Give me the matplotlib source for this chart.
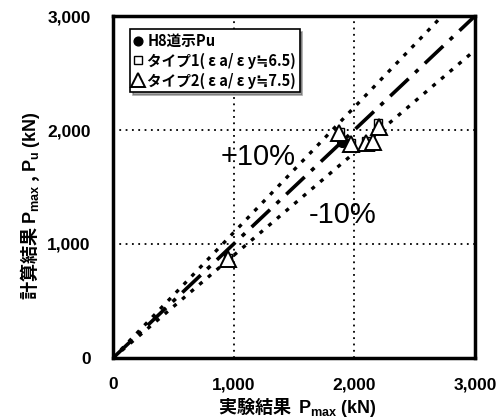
import numpy as np
import matplotlib
matplotlib.use('Agg')
import matplotlib.pyplot as plt

plt.rcParams['font.family'] = ['Liberation Sans', 'Noto Sans CJK JP']
plt.rcParams['mathtext.fontset'] = 'custom'
plt.rcParams['mathtext.rm'] = 'Liberation Sans'
plt.rcParams['mathtext.it'] = 'Liberation Sans'
plt.rcParams['mathtext.bf'] = 'Liberation Sans:bold'

# measured (x) vs calculated (y), kN
h8_x = [1900]
h8_y = [1895]
type1_x = [955, 1880, 1975, 2095, 2195]
type1_y = [880, 1980, 1890, 1900, 2060]
type2_x = [955, 1870, 1970, 2100, 2155, 2205]
type2_y = [865, 1975, 1880, 1890, 1895, 2030]

ticks = [0, 1000, 2000, 3000]
tick_labels = ['0', '1,000', '2,000', '3,000']
lim = 3000

fig = plt.figure(figsize=(5.0, 4.19), dpi=100)
ax = fig.add_axes([0.226, 0.1456, 0.724, 0.8162])

xx = np.array([0, lim])
ax.plot(xx, xx, color='black', lw=2.6, linestyle=(0, (7, 2.5, 1.2, 2.5)), zorder=2)
ax.plot(xx, xx * 1.1, color='black', lw=2.4, linestyle=(0, (1.2, 2.2)), zorder=2)
ax.plot(xx, xx * 0.9, color='black', lw=2.4, linestyle=(0, (1.2, 2.2)), zorder=2)

ax.plot(h8_x, h8_y, 'o', color='black', ms=7, zorder=3, label='H8道示Pu')
ax.plot(type1_x, type1_y, 's', mfc='white', mec='black', mew=1.0, ms=6, zorder=4,
        label='タイプ1( ε a/ ε y≒6.5)')
ax.plot(type2_x, type2_y, '^', mfc='white', mec='black', mew=1.4, ms=11, zorder=5,
        label='タイプ2( ε a/ ε y≒7.5)')

ax.set_xlim(0, lim)
ax.set_ylim(0, lim)
ax.set_xticks(ticks)
ax.set_yticks(ticks)
ax.set_xticklabels(tick_labels, fontsize=12.5, fontweight='bold')
ax.set_yticklabels(tick_labels, fontsize=12.5, fontweight='bold')
ax.tick_params(axis='x', length=0, pad=14)
ax.tick_params(axis='y', length=0, pad=16)
ax.grid(True, color='black', linestyle=(0, (1, 2.5)), lw=1.3)
for s in ax.spines.values():
    s.set_linewidth(2.5)

ax.text(1200, 1760, '+10%', fontsize=21, ha='center', va='center')
ax.text(1900, 1255, '-10%', fontsize=21, ha='center', va='center')

leg = ax.legend(loc='upper left', bbox_to_anchor=(0.04, 0.97), frameon=True,
                fancybox=False, shadow=True, edgecolor='black', framealpha=1,
                handlelength=0.6, handletextpad=0.3, borderpad=0.25,
                labelspacing=0.25, borderaxespad=0.2, markerscale=0.9,
                prop={'family': ['Noto Sans CJK JP', 'DejaVu Sans'],
                      'weight': 'bold', 'size': 10.5})
leg.get_frame().set_linewidth(1.2)

fig.text(0.594, 0.028, '実験結果  $\\mathbf{P_{max}}$ $\\mathbf{(kN)}$', ha='center',
         va='center', fontsize=13, fontweight='bold',
         family=['Noto Sans CJK JP', 'Liberation Sans'])
fig.text(0.06, 0.51, '計算結果 $\\mathbf{P_{max}}$ , $\\mathbf{P_u}$ $\\mathbf{(kN)}$',
         ha='center', va='center', rotation=90, fontsize=13, fontweight='bold',
         family=['Noto Sans CJK JP', 'Liberation Sans'])

fig.savefig('out.png', dpi=100, facecolor='white')
